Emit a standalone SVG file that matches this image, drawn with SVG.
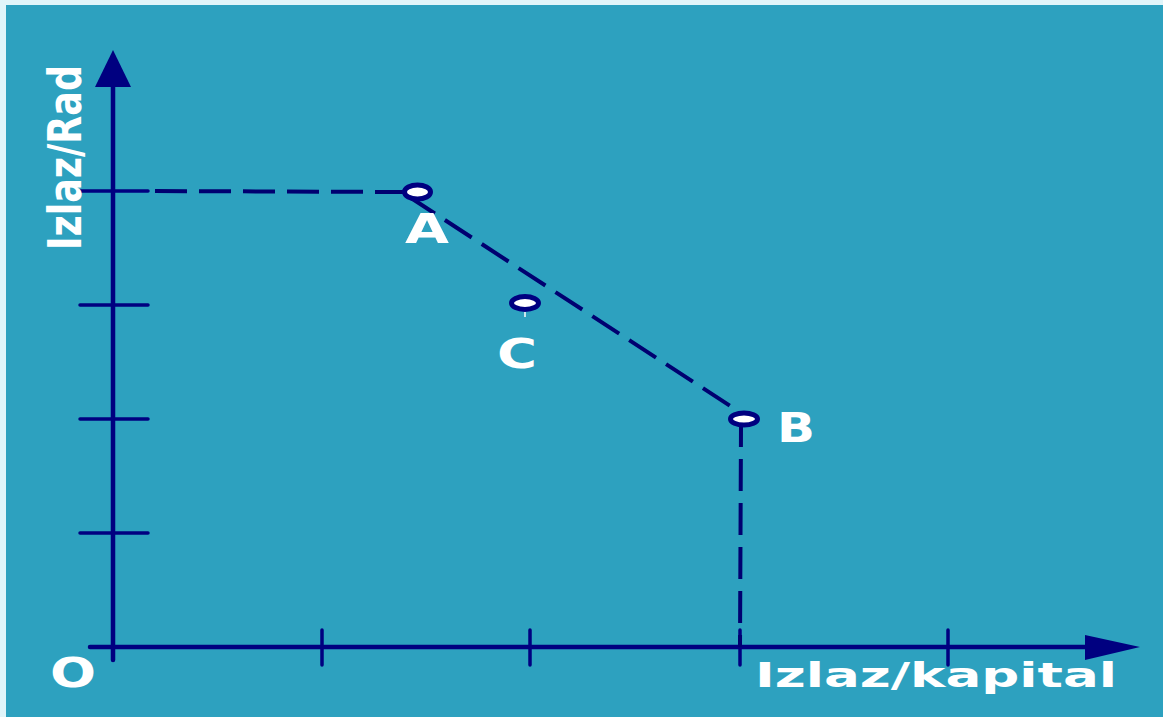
<svg xmlns="http://www.w3.org/2000/svg" width="1163" height="717" viewBox="0 0 1163 717">
<style>
.ax{stroke:#000080;stroke-width:4.5;fill:none;stroke-linecap:round}
.tk{stroke:#000080;stroke-width:3.5;fill:none;stroke-linecap:round}
.ds{stroke:#000070;stroke-width:4;fill:none;stroke-dasharray:32 12}
.pt{fill:#ffffff;stroke:#000080;stroke-width:5}
.lb{font-family:"DejaVu Sans",sans-serif;font-weight:bold;fill:#ffffff}
</style>
<rect x="0" y="0" width="1163" height="717" fill="#E0F5FA"/>
<rect x="6" y="5" width="1157" height="712" fill="#2DA1BF"/>
<g id="connectors">
<line class="ax" x1="113" y1="660" x2="113" y2="85"/>
<polygon points="113,50 95,87 131,87" fill="#000080"/>
<line class="ax" x1="90" y1="647" x2="1088" y2="647"/>
<polygon points="1140,647 1085,635 1085,660" fill="#000080"/>
<line class="tk" x1="80" y1="305" x2="148" y2="305"/>
<line class="tk" x1="80" y1="419" x2="148" y2="419"/>
<line class="tk" x1="80" y1="533" x2="148" y2="533"/>
<line class="tk" x1="322" y1="630" x2="322" y2="665"/>
<line class="tk" x1="530" y1="630" x2="530" y2="665"/>
<line class="tk" x1="740" y1="630" x2="740" y2="665"/>
<line class="tk" x1="948" y1="630" x2="948" y2="665"/>
<line class="tk" x1="80" y1="191" x2="148" y2="191"/>
<line class="ds" x1="155" y1="191" x2="405" y2="192"/>
<line class="ds" x1="408" y1="196" x2="738" y2="411"/>
<line class="ds" x1="741" y1="427" x2="740" y2="647" style="stroke-dasharray:20 12 32 12 32 12 32 12 32 12 32 12"/>
<line x1="525" y1="310" x2="525" y2="317" stroke="#ffffff" stroke-width="1.5"/>
</g>
<g id="A"><ellipse class="pt" cx="417.5" cy="192" rx="13" ry="7"/><text class="lb" x="405" y="243" font-size="41" textLength="44" lengthAdjust="spacingAndGlyphs">A</text></g>
<g id="C"><ellipse class="pt" cx="525" cy="303" rx="13.5" ry="6.5"/><text class="lb" x="497" y="368" font-size="41" textLength="40" lengthAdjust="spacingAndGlyphs">C</text></g>
<g id="B"><ellipse class="pt" cx="744" cy="419" rx="13.5" ry="6"/><text class="lb" x="777" y="442" font-size="40" textLength="38" lengthAdjust="spacingAndGlyphs">B</text></g>
<g id="O"><text class="lb" x="50" y="687" font-size="41" textLength="46" lengthAdjust="spacingAndGlyphs">O</text></g>
<g id="xlabel"><text class="lb" x="755" y="687" font-size="34" textLength="362" lengthAdjust="spacingAndGlyphs">Izlaz/kapital</text></g>
<g id="ylabel"><text class="lb" transform="translate(81,250) rotate(-90)" x="0" y="0" font-size="46" textLength="185" lengthAdjust="spacingAndGlyphs">Izlaz/Rad</text></g>
</svg>
